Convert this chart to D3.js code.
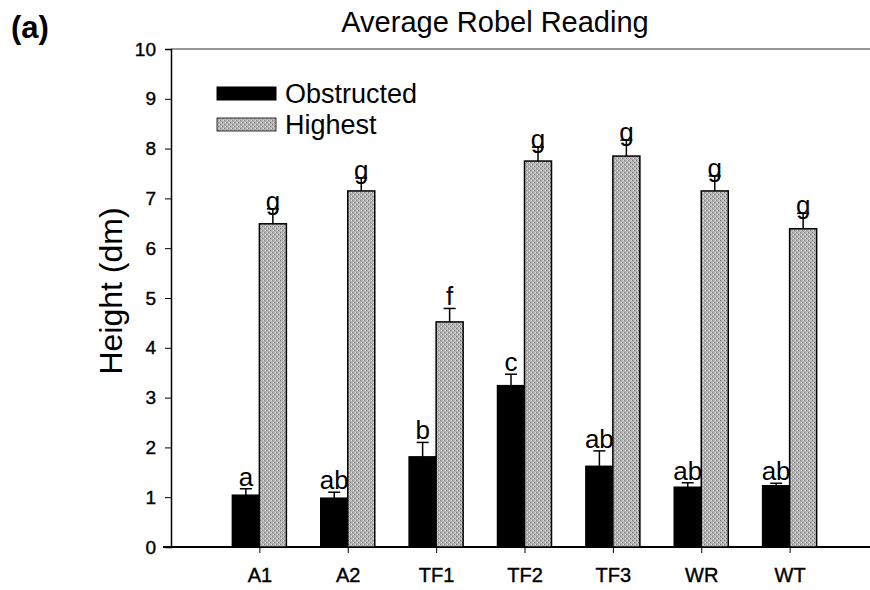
<!DOCTYPE html>
<html>
<head>
<meta charset="utf-8">
<script src="https://cdn.jsdelivr.net/npm/d3@7"></script>
<style>
  body { margin: 0; background: #fff; }
  svg text { font-family: "Liberation Sans", Arial, sans-serif; }
</style>
</head>
<body>
<svg id="chart" width="870" height="590"></svg>
<script>
// data
const sites = ["A1", "A2", "TF1", "TF2", "TF3", "WR", "WT"];
const obstructed = [1.04, 0.98, 1.81, 3.24, 1.62, 1.20, 1.23];
const obstructedErr = [0.13, 0.12, 0.29, 0.23, 0.31, 0.09, 0.05];
const obstructedLetters = ["a", "ab", "b", "c", "ab", "ab", "ab"];
const highest = [6.49, 7.15, 4.52, 7.75, 7.85, 7.15, 6.39];
const highestErr = [0.30, 0.26, 0.27, 0.28, 0.32, 0.30, 0.31];
const highestLetters = ["g", "g", "f", "g", "g", "g", "g"];
const yTicks = [0, 1, 2, 3, 4, 5, 6, 7, 8, 9, 10];

const svg = d3.select("#chart");
const mLeft = 171, mRight = 870, mTop = 49, mBottom = 547;
const barW = 27;

const x = d3.scaleLinear().domain([0, 8]).range([mLeft, 878]);
const y = d3.scaleLinear().domain([0, 10]).range([mBottom, mTop]);

// gray speckle texture for the "Highest" bars
const defs = svg.append("defs");
const pat = defs.append("pattern").attr("id", "speckle")
  .attr("patternUnits", "userSpaceOnUse").attr("width", 4).attr("height", 4);
pat.append("rect").attr("width", 4).attr("height", 4).attr("fill", "#b4b4b4");
pat.append("rect").attr("x", 0).attr("y", 0).attr("width", 1).attr("height", 1).attr("fill", "#7a7a7a");
pat.append("rect").attr("x", 2).attr("y", 2).attr("width", 1).attr("height", 1).attr("fill", "#7a7a7a");
pat.append("rect").attr("x", 3).attr("y", 0).attr("width", 1).attr("height", 1).attr("fill", "#dedede");
pat.append("rect").attr("x", 1).attr("y", 2).attr("width", 1).attr("height", 1).attr("fill", "#dedede");

// frame: top line and axes
svg.append("line").attr("x1", mLeft).attr("x2", mRight).attr("y1", mTop).attr("y2", mTop)
  .attr("stroke", "#333").attr("stroke-width", 1.2);

const yAxis = svg.append("g").attr("transform", `translate(${mLeft},0)`)
  .call(d3.axisLeft(y).tickValues(yTicks).tickSize(6).tickPadding(9).tickFormat(d3.format("d")));
yAxis.select(".domain").attr("stroke-width", 1.5);
yAxis.selectAll("text").style("font-size", "19px").attr("fill", "#000")
  .attr("stroke", "#000").attr("stroke-width", 0.4);

const xAxis = svg.append("g").attr("transform", `translate(0,${mBottom})`)
  .call(d3.axisBottom(x).tickValues(d3.range(1, sites.length + 1)).tickSize(6).tickPadding(15)
    .tickFormat(d => sites[d - 1]));
xAxis.select(".domain").attr("d", `M${mLeft - 8},0H${mRight}`).attr("stroke-width", 1.8);
xAxis.selectAll("text").style("font-size", "20px").attr("fill", "#000")
  .attr("stroke", "#000").attr("stroke-width", 0.4);

// bars
const idx = d3.range(sites.length);
const plot = svg.append("g");

function drawSeries(values, errs, letters, offset, fill) {
  const g = plot.append("g");
  g.selectAll("rect").data(idx).join("rect")
    .attr("x", i => x(i + 1) + offset)
    .attr("y", i => y(values[i]))
    .attr("width", barW)
    .attr("height", i => y(0) - y(values[i]))
    .attr("fill", fill).attr("stroke", "#000").attr("stroke-width", 1.5);
  const cx = i => x(i + 1) + offset + barW / 2;
  g.selectAll("line.err").data(idx).join("line").attr("class", "err")
    .attr("x1", cx).attr("x2", cx)
    .attr("y1", i => y(values[i])).attr("y2", i => y(values[i] + errs[i]))
    .attr("stroke", "#000").attr("stroke-width", 1.5);
  g.selectAll("line.cap").data(idx).join("line").attr("class", "cap")
    .attr("x1", i => cx(i) - 6).attr("x2", i => cx(i) + 6)
    .attr("y1", i => y(values[i] + errs[i])).attr("y2", i => y(values[i] + errs[i]))
    .attr("stroke", "#000").attr("stroke-width", 1.5);
  g.selectAll("text").data(idx).join("text")
    .attr("x", cx)
    .attr("y", i => y(values[i] + errs[i]) - (letters[i] === "g" ? -1 : 3))
    .attr("text-anchor", "middle").style("font-size", "26px").attr("fill", "#000")
    .text(i => letters[i]);
}
drawSeries(obstructed, obstructedErr, obstructedLetters, -barW, "#000");
drawSeries(highest, highestErr, highestLetters, 0, "url(#speckle)");

// legend
const legend = svg.append("g");
const legendItems = [["Obstructed", "#000"], ["Highest", "url(#speckle)"]];
legendItems.forEach(([label, fill], k) => {
  legend.append("rect").attr("x", 217).attr("y", 87 + k * 31).attr("width", 59).attr("height", 13)
    .attr("fill", fill).attr("stroke", "#000").attr("stroke-width", k ? 0.8 : 1);
  legend.append("text").attr("x", 285).attr("y", 103 + k * 31)
    .style("font-size", "27px").attr("fill", "#000").text(label);
});

// titles
svg.append("text").attr("x", 495).attr("y", 32).attr("text-anchor", "middle")
  .style("font-size", "29px").attr("fill", "#000").text("Average Robel Reading");
svg.append("text").attr("x", 11).attr("y", 38)
  .style("font-size", "31px").attr("font-weight", "bold").attr("fill", "#000").text("(a)");
svg.append("text").attr("transform", "translate(122,291) rotate(-90)")
  .attr("text-anchor", "middle").style("font-size", "32px").attr("fill", "#000").text("Height (dm)");
</script>
</body>
</html>
